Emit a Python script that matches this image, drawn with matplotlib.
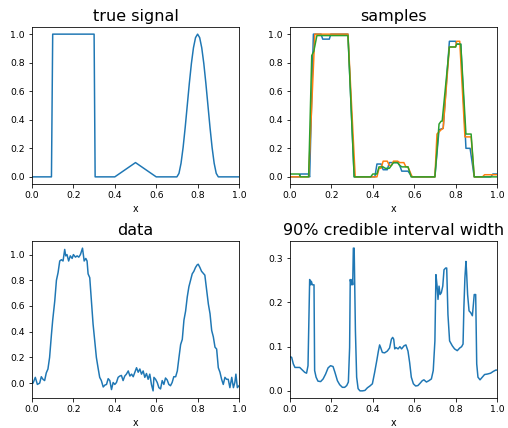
import matplotlib
matplotlib.use("Agg")
import matplotlib.pyplot as plt
from matplotlib.ticker import MultipleLocator

# --- true signal (breakpoints) ---
true_x = [0.0, 0.094, 0.1, 0.3, 0.305, 0.4, 0.5, 0.6, 0.7,
          0.71, 0.72, 0.73, 0.74, 0.75, 0.76, 0.77, 0.78, 0.79, 0.80,
          0.81, 0.82, 0.83, 0.84, 0.85, 0.86, 0.87, 0.88, 0.89, 0.9, 1.0]
true_y = [0.0, 0.0, 1.0, 1.0, 0.0, 0.0, 0.1, 0.0, 0.0,
          0.0245, 0.0955, 0.2061, 0.3455, 0.5, 0.6545, 0.7939, 0.9045, 0.9755, 1.0,
          0.9755, 0.9045, 0.7939, 0.6545, 0.5, 0.3455, 0.2061, 0.0955, 0.0245, 0.0, 0.0]

# --- three posterior samples ---
s1_x = [0, 0.045, 0.05, 0.09, 0.095, 0.113, 0.15, 0.158, 0.19, 0.197, 0.28, 0.31,
        0.39, 0.41, 0.42, 0.44, 0.45, 0.47, 0.48, 0.52, 0.53, 0.54, 0.57, 0.59,
        0.70, 0.72, 0.74, 0.77, 0.80, 0.805, 0.825, 0.85, 0.87, 0.89, 0.97, 0.98, 1.0]
s1_y = [0, 0, 0.02, 0.02, 0, 1.0, 1.0, 0.965, 0.965, 1.0, 1.0, 0,
        0, 0.0, 0.09, 0.09, 0.05, 0.05, 0.10, 0.10, 0.08, 0.04, 0.04, 0,
        0, 0.33, 0.34, 0.95, 0.95, 0.93, 0.93, 0.20, 0.20, 0, 0, 0.02, 0.02]

s2_x = [0, 0.09, 0.12, 0.28, 0.315, 0.42, 0.43, 0.44, 0.45, 0.47, 0.48, 0.49,
        0.50, 0.52, 0.53, 0.55, 0.56, 0.57, 0.59, 0.70, 0.71, 0.73, 0.74, 0.77,
        0.80, 0.805, 0.82, 0.845, 0.86, 0.875, 0.89, 0.93, 0.94, 1.0]
s2_y = [0, 0, 1.0, 1.0, 0, 0, 0.06, 0.06, 0.11, 0.11, 0.08, 0.08,
        0.11, 0.11, 0.10, 0.10, 0.07, 0.07, 0, 0, 0.30, 0.33, 0.34, 0.91,
        0.91, 0.95, 0.95, 0.28, 0.28, 0.28, 0, 0, 0.015, 0.015]

s3_x = [0, 0.045, 0.05, 0.09, 0.105, 0.115, 0.13, 0.28, 0.31, 0.39, 0.40, 0.42,
        0.43, 0.45, 0.46, 0.48, 0.50, 0.52, 0.53, 0.54, 0.57, 0.585, 0.70, 0.72,
        0.73, 0.735, 0.77, 0.80, 0.805, 0.825, 0.85, 0.875, 0.89, 1.0]
s3_y = [0.02, 0.02, 0, 0, 0.85, 0.88, 0.99, 0.99, 0, 0, 0.02, 0.02,
        0.07, 0.07, 0.06, 0.06, 0.10, 0.10, 0.08, 0.07, 0.07, 0, 0, 0.37,
        0.39, 0.39, 0.91, 0.91, 0.93, 0.93, 0.30, 0.30, 0, 0]

# --- noisy observations ---
data_x = [0.0, 0.005, 0.016, 0.026, 0.037, 0.045, 0.053, 0.061, 0.069, 0.077,
          0.085, 0.094, 0.1, 0.11, 0.118, 0.126, 0.134, 0.142, 0.15, 0.158,
          0.163, 0.169, 0.177, 0.185, 0.194, 0.2, 0.21, 0.218, 0.226, 0.234,
          0.244, 0.252, 0.26, 0.266, 0.271, 0.279, 0.287, 0.295, 0.303, 0.311,
          0.319, 0.327, 0.335, 0.344, 0.352, 0.36, 0.368, 0.376, 0.384, 0.392,
          0.4, 0.408, 0.416, 0.424, 0.432, 0.44, 0.448, 0.456, 0.465, 0.473,
          0.481, 0.489, 0.497, 0.505, 0.513, 0.521, 0.529, 0.537, 0.545, 0.553,
          0.561, 0.569, 0.577, 0.585, 0.589, 0.597, 0.605, 0.613, 0.621, 0.629,
          0.637, 0.645, 0.653, 0.661, 0.669, 0.677, 0.685, 0.694, 0.702, 0.71,
          0.718, 0.726, 0.734, 0.742, 0.75, 0.758, 0.766, 0.774, 0.782, 0.79,
          0.798, 0.803, 0.811, 0.819, 0.827, 0.835, 0.844, 0.852, 0.86, 0.868,
          0.876, 0.884, 0.892, 0.9, 0.908, 0.916, 0.924, 0.932, 0.94, 0.948,
          0.956, 0.965, 0.973, 0.98, 0.985, 0.992, 1.0]
data_y = [0.005, 0.0, 0.045, -0.01, 0.0, 0.05, 0.03, 0.02, 0.08, 0.11,
          0.2, 0.38, 0.49, 0.64, 0.8, 0.86, 0.95, 0.96, 0.95, 1.04,
          0.99, 1.0, 0.95, 0.99, 0.97, 1.0, 0.98, 0.99, 0.98, 1.0,
          1.05, 0.95, 0.97, 0.95, 0.85, 0.82, 0.64, 0.46, 0.33, 0.2,
          0.12, 0.045, 0.02, -0.03, -0.015, -0.01, 0.035, 0.02, -0.05, 0.005,
          -0.01, 0.005, 0.045, 0.055, 0.06, 0.02, 0.055, 0.07, 0.095, 0.055,
          0.07, 0.05, 0.085, 0.12, 0.085, 0.11, 0.07, 0.095, 0.045, 0.075,
          0.03, 0.07, -0.01, -0.06, 0.045, 0.03, 0.005, -0.035, -0.045, 0.02,
          -0.01, 0.04, 0.025, -0.01, -0.02, 0.005, 0.05, 0.05, 0.095, 0.2,
          0.3, 0.34, 0.49, 0.56, 0.67, 0.75, 0.8, 0.85, 0.87, 0.9,
          0.92, 0.925, 0.9, 0.87, 0.855, 0.84, 0.72, 0.615, 0.54, 0.41,
          0.36, 0.28, 0.265, 0.12, 0.085, 0.03, -0.01, 0.045, 0.03, 0.03,
          -0.035, 0.045, -0.035, 0.005, 0.07, -0.035, -0.02]

# --- 90% credible interval width ---
ci_x = [0.0, 0.008, 0.016, 0.024, 0.035, 0.047, 0.06, 0.071, 0.08, 0.087,
        0.095, 0.1, 0.103, 0.108, 0.116, 0.119, 0.126, 0.135, 0.148, 0.16,
        0.172, 0.184, 0.196, 0.208, 0.217, 0.229, 0.24, 0.253, 0.264, 0.274,
        0.282, 0.288, 0.291, 0.296, 0.3, 0.303, 0.306, 0.31, 0.316, 0.322,
        0.329, 0.338, 0.35, 0.362, 0.374, 0.386, 0.398, 0.409, 0.419, 0.427,
        0.433, 0.438, 0.446, 0.457, 0.47, 0.481, 0.49, 0.496, 0.501, 0.506,
        0.512, 0.522, 0.531, 0.539, 0.551, 0.56, 0.57, 0.578, 0.586, 0.596,
        0.607, 0.618, 0.628, 0.639, 0.647, 0.659, 0.671, 0.683, 0.692, 0.7,
        0.705, 0.71, 0.715, 0.72, 0.725, 0.731, 0.738, 0.744, 0.752, 0.757,
        0.763, 0.771, 0.784, 0.795, 0.808, 0.82, 0.829, 0.836, 0.84, 0.845,
        0.85, 0.853, 0.858, 0.865, 0.873, 0.881, 0.886, 0.89, 0.897, 0.902,
        0.908, 0.918, 0.929, 0.94, 0.953, 0.969, 0.982, 0.994, 1.0]
ci_y = [0.077, 0.076, 0.061, 0.053, 0.053, 0.053, 0.047, 0.042, 0.04, 0.057,
        0.252, 0.24, 0.248, 0.24, 0.24, 0.046, 0.031, 0.022, 0.021, 0.027,
        0.038, 0.052, 0.057, 0.055, 0.042, 0.023, 0.014, 0.008, 0.008, 0.012,
        0.02, 0.098, 0.252, 0.24, 0.252, 0.24, 0.323, 0.323, 0.136, 0.031,
        0.005, 0.0, 0.0, 0.001, 0.007, 0.011, 0.016, 0.042, 0.068, 0.09,
        0.104, 0.098, 0.087, 0.086, 0.09, 0.097, 0.117, 0.121, 0.117, 0.095,
        0.098, 0.095, 0.1, 0.095, 0.102, 0.104, 0.09, 0.064, 0.031, 0.016,
        0.011, 0.012, 0.017, 0.023, 0.025, 0.02, 0.023, 0.027, 0.046, 0.113,
        0.263, 0.24, 0.207, 0.237, 0.218, 0.222, 0.237, 0.274, 0.278, 0.278,
        0.173, 0.113, 0.102, 0.095, 0.091, 0.097, 0.1, 0.106, 0.188, 0.256,
        0.293, 0.27, 0.218, 0.181, 0.177, 0.17, 0.196, 0.218, 0.218, 0.061,
        0.031, 0.025, 0.031, 0.037, 0.038, 0.04, 0.044, 0.047, 0.047]

W, H = 508, 428
fig = plt.figure(figsize=(W / 72, H / 72), dpi=72)


def add_axes(left_px, top_px, right_px, bottom_px):
    return fig.add_axes([left_px / W, 1 - bottom_px / H,
                         (right_px - left_px) / W, (bottom_px - top_px) / H])


ax_true = add_axes(32, 27, 239, 184)
ax_samp = add_axes(290, 27, 497, 184)
ax_data = add_axes(32, 241, 239, 398)
ax_ci = add_axes(290, 241, 497, 398)

ax_true.plot(true_x, true_y)
ax_true.set_title("true signal", fontsize=16)

ax_samp.plot(s1_x, s1_y)
ax_samp.plot(s2_x, s2_y)
ax_samp.plot(s3_x, s3_y)
ax_samp.set_title("samples", fontsize=16)

ax_data.plot(data_x, data_y)
ax_data.set_title("data", fontsize=16)

ax_ci.plot(ci_x, ci_y)
ax_ci.set_title("90% credible interval width", fontsize=16)
ax_ci.yaxis.set_major_locator(MultipleLocator(0.1))

for ax in (ax_true, ax_samp, ax_data, ax_ci):
    ax.set_xlim(0, 1)
    ax.set_xlabel("x", fontsize=9.5)
    ax.tick_params(labelsize=9.3)

fig.savefig("out.png", dpi=72)
